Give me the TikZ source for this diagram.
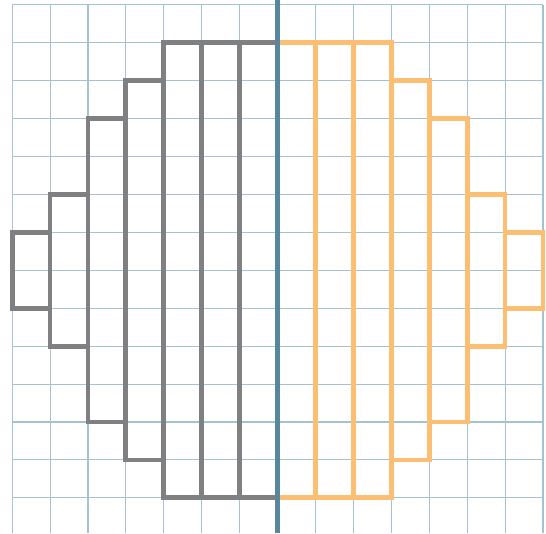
\documentclass[tikz,border=0pt]{standalone}
\definecolor{gridc}{RGB}{165,195,205}
\definecolor{grayc}{RGB}{128,128,131}
\definecolor{orangec}{RGB}{252,190,115}
\definecolor{bluec}{RGB}{88,134,154}
\tikzset{
  gridline/.style={draw=gridc, line width=0.8pt},
  graybar/.style={draw=grayc, line width=3.6pt},
  orangebar/.style={draw=orangec, line width=3.6pt},
  axisline/.style={draw=bluec, line width=4pt}
}
\begin{document}
\begin{tikzpicture}
\useasboundingbox (-0.32,-0.93) rectangle (14.08,13.13);
% grid
\foreach \i in {0,...,14} \draw[gridline] (\i,-0.93) -- (\i,13);
\foreach \j in {0,...,13} \draw[gridline] (0,\j) -- (14,\j);
% gray bars
\draw[graybar] (0,5) rectangle (1,7);
\draw[graybar] (1,4) rectangle (2,8);
\draw[graybar] (2,2) rectangle (3,10);
\draw[graybar] (3,1) rectangle (4,11);
\draw[graybar] (4,0) rectangle (5,12);
\draw[graybar] (5,0) rectangle (6,12);
\draw[graybar] (6,0) rectangle (7,12);
% orange bars
\draw[orangebar] (7,0) rectangle (8,12);
\draw[orangebar] (8,0) rectangle (9,12);
\draw[orangebar] (9,0) rectangle (10,12);
\draw[orangebar] (10,1) rectangle (11,11);
\draw[orangebar] (11,2) rectangle (12,10);
\draw[orangebar] (12,4) rectangle (13,8);
\draw[orangebar] (13,5) rectangle (14,7);
% axis
\coordinate (top) at (7,13.13);
\coordinate (bot) at (7,-0.93);
\draw[axisline] (bot) -- (top);
\end{tikzpicture}
\end{document}
